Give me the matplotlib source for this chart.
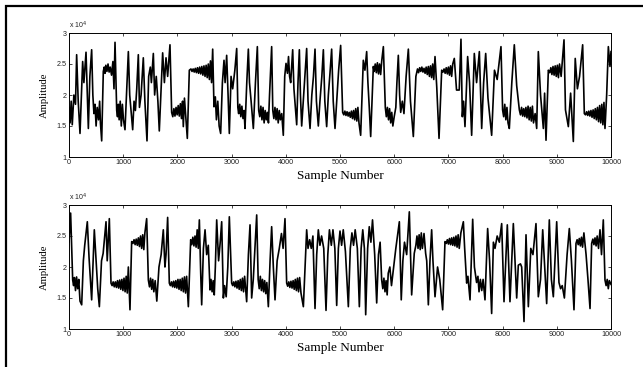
import numpy as np
import matplotlib.pyplot as plt
from matplotlib.patches import Rectangle
from matplotlib.ticker import FixedLocator

# Vrhovi signala (vzorec, amplituda v enotah 10^4), odcitani s slike
top_x = [0, 20, 40, 60, 90, 120, 141, 170, 203, 230, 252, 275, 314, 335, 357, 385, 418, 440, 460, 480,
         500, 520, 545, 565, 580, 603, 633, 650, 665, 680, 700, 720, 740, 760, 785, 810, 830, 849, 880, 895,
         910, 925, 945, 965, 985, 1005, 1033, 1060, 1095, 1120, 1150, 1175, 1200, 1225, 1250, 1279, 1300, 1330, 1371, 1400,
         1439, 1470, 1500, 1520, 1556, 1580, 1610, 1640, 1666, 1700, 1728, 1760, 1790, 1820, 1863, 1894, 1915, 1935, 1955, 1975,
         1995, 2015, 2035, 2055, 2075, 2095, 2109, 2130, 2150, 2183, 2220, 2250, 2270, 2290, 2310, 2330, 2350, 2370, 2390, 2410,
         2430, 2450, 2470, 2490, 2510, 2530, 2550, 2570, 2590, 2610, 2630, 2651, 2675, 2700, 2720, 2745, 2770, 2798, 2830, 2860,
         2880, 2909, 2935, 2958, 2990, 3020, 3060, 3094, 3115, 3130, 3150, 3170, 3190, 3210, 3230, 3247, 3280, 3309, 3330, 3360,
         3401, 3440, 3475, 3500, 3520, 3540, 3560, 3580, 3600, 3620, 3640, 3660, 3680, 3700, 3739, 3760, 3780, 3800, 3820, 3840,
         3860, 3880, 3900, 3925, 3954, 3980, 4004, 4030, 4050, 4070, 4090, 4127, 4150, 4201, 4225, 4250, 4270, 4293, 4330, 4360,
         4385, 4410, 4447, 4480, 4510, 4539, 4565, 4600, 4630, 4665, 4693, 4720, 4754, 4785, 4815, 4846, 4875, 4908, 4940, 4975,
         5012, 5049, 5070, 5090, 5110, 5130, 5150, 5170, 5190, 5210, 5230, 5250, 5270, 5290, 5310, 5330, 5350, 5381, 5430, 5460,
         5492, 5515, 5540, 5566, 5615, 5630, 5650, 5670, 5690, 5710, 5730, 5750, 5770, 5800, 5836, 5855, 5875, 5895, 5915, 5935,
         5955, 5975, 6000, 6030, 6050, 6076, 6100, 6120, 6150, 6180, 6220, 6261, 6300, 6353, 6400, 6430, 6450, 6470, 6490, 6510,
         6530, 6550, 6570, 6590, 6610, 6630, 6650, 6670, 6690, 6710, 6730, 6753, 6785, 6827, 6876, 6900, 6920, 6940, 6960, 6980,
         7000, 7020, 7040, 7060, 7080, 7109, 7150, 7200, 7232, 7257, 7280, 7306, 7355, 7390, 7429, 7478, 7520, 7571, 7614, 7650,
         7688, 7730, 7798, 7850, 7900, 7970, 8000, 8020, 8040, 8060, 8080, 8100, 8124, 8170, 8216, 8260, 8309, 8330, 8350, 8370,
         8390, 8410, 8430, 8450, 8470, 8490, 8510, 8530, 8550, 8570, 8600, 8629, 8659, 8700, 8752, 8775, 8801, 8844, 8870, 8890,
         8910, 8930, 8950, 8970, 8990, 9010, 9030, 9050, 9080, 9133, 9160, 9213, 9255, 9305, 9340, 9380, 9420, 9477, 9508, 9530,
         9550, 9570, 9590, 9610, 9630, 9650, 9670, 9690, 9710, 9730, 9750, 9770, 9790, 9810, 9830, 9850, 9870, 9889, 9920, 9951,
         9981, 10000]
top_y = [1.80, 1.55, 1.90, 1.52, 2.00, 1.85, 2.65, 1.90, 1.38, 2.00, 2.54, 2.20, 2.69, 2.10, 1.46, 2.30, 2.73, 2.00, 1.70, 1.85,
         1.50, 1.80, 1.60, 1.90, 1.55, 1.26, 2.38, 2.45, 2.35, 2.48, 2.38, 2.50, 2.37, 2.45, 2.32, 2.54, 2.10, 2.85, 1.75, 1.65,
         1.85, 1.60, 1.90, 1.50, 1.85, 1.60, 1.44, 2.00, 2.70, 2.00, 1.70, 1.44, 1.90, 1.75, 2.10, 2.65, 1.80, 2.00, 2.60, 1.90,
         1.26, 2.30, 2.45, 2.20, 2.67, 2.00, 2.30, 1.90, 1.42, 2.10, 2.68, 2.20, 2.60, 2.30, 2.81, 1.72, 1.65, 1.78, 1.66, 1.80,
         1.68, 1.83, 1.66, 1.86, 1.62, 1.90, 1.49, 1.95, 1.70, 1.30, 2.40, 2.42, 2.38, 2.42, 2.37, 2.43, 2.36, 2.44, 2.35, 2.45,
         2.34, 2.46, 2.32, 2.47, 2.30, 2.48, 2.28, 2.50, 2.25, 2.55, 2.20, 2.74, 1.81, 1.97, 1.60, 1.90, 1.50, 1.38, 2.20, 2.56,
         2.20, 2.64, 2.00, 1.38, 2.30, 2.10, 2.40, 2.75, 1.80, 1.70, 1.85, 1.65, 1.82, 1.62, 1.75, 1.46, 2.20, 2.74, 2.20, 1.90,
         1.46, 2.20, 2.78, 1.75, 1.65, 1.82, 1.60, 1.80, 1.55, 1.75, 1.60, 1.72, 1.55, 2.00, 2.78, 1.75, 1.62, 1.80, 1.60, 1.78,
         1.55, 1.75, 1.60, 1.70, 1.35, 2.30, 2.51, 2.35, 2.62, 2.30, 2.20, 2.73, 2.10, 1.52, 2.20, 2.73, 2.00, 1.50, 2.00, 2.40,
         2.75, 1.90, 1.46, 2.00, 2.30, 2.74, 1.90, 1.50, 1.90, 2.30, 2.73, 1.90, 1.49, 2.00, 2.35, 2.74, 1.90, 1.46, 1.90, 2.40,
         2.80, 1.72, 1.68, 1.74, 1.67, 1.73, 1.66, 1.72, 1.64, 1.74, 1.62, 1.75, 1.60, 1.78, 1.58, 1.80, 1.55, 1.35, 2.56, 2.40,
         2.70, 2.20, 1.80, 1.33, 2.46, 2.38, 2.50, 2.36, 2.52, 2.34, 2.50, 2.33, 2.55, 2.78, 1.80, 1.65, 1.80, 1.60, 1.78, 1.55,
         1.72, 1.50, 1.65, 1.80, 2.20, 2.64, 2.00, 1.72, 1.90, 1.70, 2.30, 2.74, 1.90, 1.33, 2.30, 2.42, 2.36, 2.44, 2.38, 2.45,
         2.37, 2.43, 2.35, 2.45, 2.33, 2.46, 2.30, 2.47, 2.28, 2.50, 2.25, 2.62, 2.13, 1.30, 2.40, 2.37, 2.42, 2.35, 2.44, 2.34,
         2.45, 2.32, 2.47, 2.30, 2.50, 2.59, 2.08, 2.08, 2.90, 1.65, 1.90, 1.49, 2.62, 2.20, 1.35, 2.67, 2.20, 2.70, 1.46, 2.20,
         2.67, 1.95, 1.35, 2.40, 2.25, 2.78, 1.76, 1.65, 1.85, 1.60, 1.80, 1.55, 1.46, 2.20, 2.81, 2.15, 1.76, 1.68, 1.80, 1.66,
         1.78, 1.65, 1.80, 1.63, 1.82, 1.60, 1.80, 1.58, 1.82, 1.55, 1.70, 1.46, 2.70, 2.00, 1.46, 2.03, 1.27, 2.40, 2.36, 2.44,
         2.33, 2.46, 2.32, 2.47, 2.30, 2.48, 2.28, 2.50, 2.30, 2.89, 1.76, 1.49, 2.03, 1.25, 2.59, 2.10, 2.30, 2.81, 1.70, 1.68,
         1.73, 1.67, 1.74, 1.66, 1.75, 1.64, 1.76, 1.62, 1.78, 1.60, 1.80, 1.57, 1.83, 1.55, 1.85, 1.52, 1.88, 1.46, 2.00, 2.78,
         2.46, 2.70]

bot_x = [0, 30, 50, 68, 85, 100, 120, 140, 160, 180, 203, 234, 265, 290, 338, 370, 418, 467, 500, 530,
         560, 600, 630, 683, 705, 744, 775, 795, 815, 835, 855, 875, 895, 915, 935, 955, 975, 995, 1015, 1035,
         1055, 1075, 1095, 1125, 1156, 1180, 1200, 1220, 1240, 1260, 1280, 1300, 1320, 1340, 1360, 1380, 1400, 1433, 1464, 1485,
         1505, 1525, 1545, 1565, 1590, 1620, 1660, 1700, 1740, 1770, 1790, 1820, 1851, 1870, 1890, 1910, 1930, 1950, 1970, 1990,
         2010, 2030, 2050, 2070, 2090, 2110, 2130, 2150, 2170, 2202, 2245, 2265, 2285, 2305, 2325, 2345, 2365, 2385, 2405, 2430,
         2448, 2480, 2510, 2540, 2570, 2602, 2620, 2640, 2660, 2680, 2700, 2725, 2760, 2790, 2817, 2848, 2870, 2900, 2930, 2958,
         3001, 3020, 3040, 3060, 3080, 3100, 3120, 3140, 3160, 3180, 3200, 3220, 3240, 3278, 3310, 3340, 3370, 3400, 3430, 3463,
         3490, 3510, 3530, 3550, 3570, 3590, 3610, 3630, 3650, 3678, 3710, 3739, 3770, 3801, 3840, 3880, 3920, 3950, 3985, 4016,
         4035, 4055, 4075, 4095, 4115, 4135, 4155, 4175, 4195, 4215, 4235, 4255, 4280, 4324, 4360, 4385, 4410, 4440, 4470, 4500,
         4539, 4570, 4600, 4630, 4660, 4700, 4742, 4775, 4805, 4840, 4870, 4905, 4939, 4970, 5000, 5030, 5060, 5100, 5154, 5190,
         5220, 5250, 5280, 5320, 5357, 5390, 5420, 5450, 5474, 5510, 5540, 5570, 5600, 5640, 5677, 5710, 5740, 5769, 5790, 5810,
         5830, 5850, 5870, 5890, 5920, 5950, 5990, 6030, 6060, 6095, 6130, 6160, 6190, 6230, 6279, 6322, 6370, 6400, 6420, 6440,
         6460, 6480, 6500, 6520, 6550, 6580, 6600, 6630, 6660, 6691, 6715, 6753, 6800, 6840, 6894, 6937, 6960, 6980, 7000, 7020,
         7040, 7060, 7080, 7100, 7120, 7140, 7160, 7180, 7200, 7230, 7276, 7300, 7337, 7360, 7399, 7448, 7480, 7520, 7545, 7565,
         7590, 7615, 7640, 7675, 7724, 7760, 7798, 7830, 7860, 7900, 7940, 7983, 8026, 8087, 8136, 8198, 8260, 8290, 8330, 8352,
         8395, 8432, 8475, 8520, 8560, 8616, 8659, 8700, 8740, 8764, 8813, 8862, 8900, 8936, 8998, 9040, 9070, 9100, 9140, 9190,
         9231, 9270, 9317, 9354, 9375, 9395, 9415, 9435, 9455, 9475, 9500, 9540, 9575, 9613, 9643, 9665, 9685, 9705, 9725, 9745,
         9770, 9797, 9825, 9858, 9889, 9910, 9930, 9950, 9970, 10000]
bot_y = [2.40, 2.87, 2.33, 1.79, 1.70, 1.83, 1.62, 1.84, 1.65, 1.80, 1.45, 1.39, 2.10, 2.35, 2.73, 2.15, 1.47, 2.60, 2.10, 1.65,
         1.36, 2.10, 2.22, 2.73, 2.10, 2.78, 1.74, 1.70, 1.76, 1.68, 1.76, 1.67, 1.78, 1.66, 1.79, 1.64, 1.80, 1.62, 1.82, 1.60,
         1.85, 1.58, 2.00, 1.31, 2.41, 2.38, 2.44, 2.36, 2.45, 2.35, 2.47, 2.33, 2.50, 2.30, 2.52, 2.28, 2.55, 2.78, 1.79, 1.68,
         1.82, 1.64, 1.80, 1.60, 1.78, 1.45, 2.00, 2.20, 2.60, 2.00, 2.20, 2.80, 1.74, 1.70, 1.76, 1.68, 1.77, 1.67, 1.78, 1.66,
         1.80, 1.64, 1.80, 1.62, 1.82, 1.60, 1.84, 1.58, 1.85, 1.36, 2.44, 2.36, 2.48, 2.34, 2.50, 2.32, 2.60, 2.30, 2.76, 1.90,
         1.39, 2.30, 2.60, 2.20, 2.35, 1.63, 1.80, 1.60, 1.78, 1.55, 2.00, 2.76, 2.10, 2.40, 2.73, 1.50, 1.70, 1.52, 2.00, 2.81,
         1.74, 1.70, 1.76, 1.68, 1.77, 1.66, 1.78, 1.64, 1.80, 1.62, 1.82, 1.60, 1.85, 1.44, 2.20, 2.68, 1.50, 1.80, 2.30, 2.84,
         1.80, 1.65, 1.85, 1.62, 1.80, 1.60, 1.78, 1.57, 1.75, 1.36, 2.10, 2.65, 2.00, 1.47, 2.10, 2.30, 2.54, 2.30, 2.78, 1.74,
         1.69, 1.76, 1.67, 1.77, 1.66, 1.78, 1.64, 1.80, 1.62, 1.82, 1.60, 1.83, 1.58, 1.36, 2.10, 2.60, 2.30, 2.44, 2.30, 2.50,
         1.33, 2.20, 2.60, 2.35, 2.50, 2.30, 1.30, 2.20, 2.60, 2.35, 2.60, 2.30, 1.38, 2.30, 2.58, 2.35, 2.60, 2.25, 1.36, 2.30,
         2.55, 2.35, 2.60, 2.30, 1.36, 2.30, 2.60, 2.30, 1.23, 2.30, 2.65, 2.40, 2.76, 2.20, 1.42, 2.20, 2.40, 1.79, 1.65, 1.82,
         1.60, 1.78, 1.55, 1.90, 2.00, 1.70, 2.00, 2.30, 2.50, 2.73, 1.47, 2.10, 2.40, 2.20, 2.89, 1.55, 2.22, 2.35, 2.50, 2.30,
         2.52, 2.28, 2.55, 2.30, 2.54, 2.22, 2.10, 1.39, 2.10, 2.60, 2.10, 1.52, 2.00, 1.80, 1.31, 2.41, 2.38, 2.44, 2.37, 2.46,
         2.36, 2.47, 2.35, 2.48, 2.34, 2.50, 2.32, 2.52, 2.30, 2.55, 2.73, 2.30, 1.74, 1.85, 1.47, 2.77, 2.00, 1.75, 1.85, 1.60,
         1.80, 1.62, 1.80, 1.47, 2.62, 2.10, 1.25, 2.40, 2.30, 2.50, 2.40, 2.70, 1.44, 2.68, 1.44, 2.70, 1.50, 2.03, 2.05, 2.00,
         1.12, 2.52, 1.36, 2.30, 2.20, 2.70, 1.52, 1.80, 2.60, 2.20, 1.41, 2.76, 1.80, 1.52, 2.73, 1.75, 1.65, 1.70, 1.50, 2.20,
         2.62, 2.10, 1.31, 2.38, 2.44, 2.36, 2.46, 2.34, 2.48, 2.32, 2.55, 2.20, 1.80, 1.33, 2.38, 2.45, 2.36, 2.47, 2.34, 2.50,
         2.30, 2.60, 2.20, 2.76, 1.79, 1.70, 1.80, 1.65, 1.78, 1.72]

x_ticks = [0, 1000, 2000, 3000, 4000, 5000, 6000, 7000, 8000, 9000, 10000]
y_ticks = [1, 1.5, 2, 2.5, 3]
y_labels = ["1", "1.5", "2", "2.5", "3"]

tick_font = "Liberation Sans"
label_font = "Liberation Serif"

fig = plt.figure(figsize=(6.43, 3.67), dpi=100)

# Okvir okoli slike (viden samo levi in zgornji rob)
fig.patches.append(Rectangle((6 / 643, -0.5), 2.0, 1.5 - 6 / 367, transform=fig.transFigure,
                             fill=False, edgecolor="black", linewidth=1.6))

positions = [[69 / 643, 1 - 157 / 367, 542 / 643, 124 / 367],
             [69 / 643, 1 - 329 / 367, 542 / 643, 124 / 367]]

for pos, xs, ys in zip(positions, [top_x, bot_x], [top_y, bot_y]):
    ax = fig.add_axes(pos)
    ax.plot(xs, ys, color="black", linewidth=1.2)
    ax.set_xlim(0, 10000)
    ax.set_ylim(1, 3)
    ax.xaxis.set_major_locator(FixedLocator(x_ticks))
    ax.set_xticklabels([str(t) for t in x_ticks], fontsize=5.2, family=tick_font, color="#222222")
    ax.yaxis.set_major_locator(FixedLocator(y_ticks))
    ax.set_yticklabels(y_labels, fontsize=5.2, family=tick_font, color="#222222")
    ax.tick_params(direction="in", top=True, right=True, length=2.5, width=0.5, pad=1.5)
    for s in ax.spines.values():
        s.set_linewidth(0.7)
    ax.set_xlabel("Sample Number", fontsize=9.5, family=label_font, labelpad=3)
    ax.set_ylabel("Amplitude", fontsize=7.7, family=label_font, labelpad=6)
    ax.text(0, 1.015, r"x 10$^{4}$", transform=ax.transAxes, fontsize=5.0, family=tick_font,
            ha="left", va="bottom", color="#222222")

plt.savefig("out.png", dpi=100)
